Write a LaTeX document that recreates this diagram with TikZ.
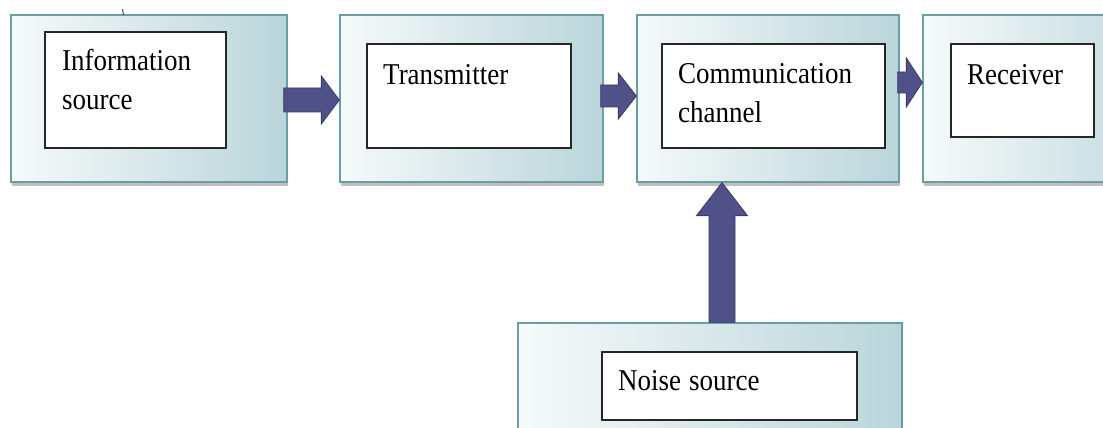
\documentclass[tikz,border=0pt]{standalone}
\usepackage{fontspec}
\setmainfont{Liberation Serif}
\usetikzlibrary{shadows,calc}
\definecolor{tealborder}{HTML}{6A9EA6}
\definecolor{tealfill}{HTML}{BAD5DA}
\definecolor{tealwhite}{HTML}{F6FAFA}
\definecolor{arrowfill}{HTML}{51518A}
\definecolor{arrowline}{HTML}{3A3A68}
\begin{document}
\begin{tikzpicture}[x=1pt,y=1pt,
  outerbox/.style={draw=tealborder, line width=1.3pt, left color=tealwhite, right color=tealfill,
    drop shadow={shadow xshift=1pt, shadow yshift=-4pt, opacity=0.25, fill=black},
    minimum height=167pt, inner sep=0pt},
  innerbox/.style={draw=black!85, line width=1.1pt, fill=white, inner sep=0pt},
  lbl/.style={anchor=base west, inner sep=0pt, align=left,
    font=\fontsize{27}{35.5}\selectfont, yscale=1.12, transform shape},
  bigarrow/.style={draw=arrowline, fill=arrowfill, line width=0.8pt, line join=miter}]
\useasboundingbox (0,0) rectangle (1103,428);
\begin{scope}
\clip (0,0) rectangle (1103,428);
% outer boxes
\node[outerbox, minimum width=276pt] (src) at (149,329.5) {};
\node[outerbox, minimum width=263pt] (tx) at (471.5,329.5) {};
\node[outerbox, minimum width=262pt] (ch) at (768,329.5) {};
\node[outerbox, minimum width=266pt] (rx) at (1056,329.5) {};
\node[outerbox, minimum width=384pt] (noise) at (710,21.5) {};
% inner boxes
\node[innerbox, minimum width=181pt, minimum height=116pt] (isrc) at (135.5,338) {};
\node[innerbox, minimum width=204pt, minimum height=104pt] (itx) at (469,332) {};
\node[innerbox, minimum width=223pt, minimum height=104pt] (ich) at (773.5,332) {};
\node[innerbox, minimum width=143pt, minimum height=93pt] (irx) at (1022.5,337.5) {};
\node[innerbox, minimum width=255pt, minimum height=68pt] (inoise) at (729.5,42) {};
% labels (base anchor = baseline of the last line)
\node[lbl] (tsrc) at (62,318) {Information\\source};
\node[lbl] (ttx) at (383,343) {Transmitter};
\node[lbl] (tch) at (678,305) {Communication\\channel};
\node[lbl] (trx) at (967,343) {Receiver};
\node[lbl] (tnoise) at (618,37) {Noise\hspace{8pt}source};
% arrows
\draw[bigarrow] let \p1=(src.east), \p2=(tx.west) in
  (\x1-4pt,316pt) -- (\x2-18pt,316pt) -- (\x2-18pt,304pt) -- (\x2,328pt)
  -- (\x2-18pt,352pt) -- (\x2-18pt,340pt) -- (\x1-4pt,340pt) -- cycle;
\draw[bigarrow] let \p1=(tx.east), \p2=(ch.west) in
  (\x1-3pt,321pt) -- (\x2-18pt,321pt) -- (\x2-18pt,309pt) -- (\x2,332pt)
  -- (\x2-18pt,355pt) -- (\x2-18pt,343pt) -- (\x1-3pt,343pt) -- cycle;
\draw[bigarrow] let \p1=(ch.east), \p2=(rx.west) in
  (\x1-2pt,335pt) -- (\x2-16pt,335pt) -- (\x2-16pt,321pt) -- (\x2,345.5pt)
  -- (\x2-16pt,370pt) -- (\x2-16pt,356pt) -- (\x1-2pt,356pt) -- cycle;
\draw[bigarrow] let \p1=(noise.north), \p2=(ch.south) in
  (709pt,\y1) -- (709pt,\y2-33pt) -- (696.5pt,\y2-33pt) -- (722pt,\y2)
  -- (747.5pt,\y2-33pt) -- (735pt,\y2-33pt) -- (735pt,\y1) -- cycle;
% small stray tick above the first box
\draw[black!70, line width=1pt] (122.5,419) -- (123.5,413);
\end{scope}
\end{tikzpicture}
\end{document}
